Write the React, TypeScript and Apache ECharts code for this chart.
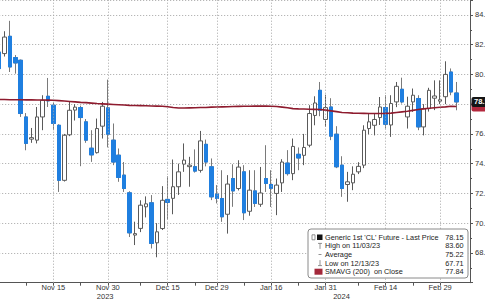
import React, { useEffect, useRef } from "react";
import * as echarts from "echarts";

// ---- data ----
const dates = [
  "2023-11-01","2023-11-02","2023-11-03","2023-11-06","2023-11-07","2023-11-08","2023-11-09","2023-11-10","2023-11-13","2023-11-14",
  "2023-11-15","2023-11-16","2023-11-17","2023-11-20","2023-11-21","2023-11-22","2023-11-24","2023-11-27","2023-11-28","2023-11-29",
  "2023-11-30","2023-12-01","2023-12-04","2023-12-05","2023-12-06","2023-12-07","2023-12-08","2023-12-11","2023-12-12","2023-12-13",
  "2023-12-14","2023-12-15","2023-12-18","2023-12-19","2023-12-20","2023-12-21","2023-12-22","2023-12-26","2023-12-27","2023-12-28",
  "2023-12-29","2024-01-02","2024-01-03","2024-01-04","2024-01-05","2024-01-08","2024-01-09","2024-01-10","2024-01-11","2024-01-12",
  "2024-01-16","2024-01-17","2024-01-18","2024-01-19","2024-01-22","2024-01-23","2024-01-24","2024-01-25","2024-01-26","2024-01-29",
  "2024-01-30","2024-01-31","2024-02-01","2024-02-02","2024-02-05","2024-02-06","2024-02-07","2024-02-08","2024-02-09","2024-02-12",
  "2024-02-13","2024-02-14","2024-02-15","2024-02-16","2024-02-20","2024-02-21","2024-02-22","2024-02-23","2024-02-26","2024-02-27",
  "2024-02-28","2024-02-29","2024-03-01","2024-03-04","2024-03-05",
];
const opens = [
  81.50,81.40,82.56,81.13,80.95,77.14,75.65,75.58,77.14,78.53,
  77.93,76.58,72.88,75.94,77.60,77.77,76.81,75.04,74.74,76.52,
  77.75,75.58,74.57,73.23,72.04,69.20,69.65,71.10,71.37,68.68,
  69.64,71.60,71.67,72.45,73.97,73.80,73.80,73.55,75.30,73.79,
  71.95,71.66,70.60,73.00,72.33,73.45,70.80,72.17,71.27,73.00,
  72.60,72.00,72.71,74.04,73.33,74.63,74.56,75.24,77.24,78.93,
  76.97,77.81,75.98,73.90,72.60,72.71,73.45,73.90,76.36,76.58,
  77.10,77.77,76.60,78.15,79.00,77.14,78.15,78.38,76.47,77.70,
  78.40,78.20,78.50,80.16,78.75,
];
const closes = [
  80.39,82.51,80.50,80.77,77.37,75.36,75.75,77.14,78.26,78.22,
  76.70,72.88,75.91,77.59,77.80,77.10,75.58,74.59,76.36,77.86,
  75.98,74.11,73.07,72.33,69.35,69.30,71.21,71.30,68.64,69.42,
  71.54,71.40,72.45,73.45,74.24,73.90,73.50,75.53,74.11,71.77,
  71.66,70.43,72.63,72.17,73.77,70.70,72.22,71.33,72.03,72.67,
  72.34,72.56,74.11,73.33,75.16,74.38,75.09,77.37,78.08,77.59,
  77.77,75.85,73.79,72.33,72.78,73.29,73.82,76.25,76.81,76.97,
  77.81,76.65,78.04,79.20,78.15,77.86,78.60,76.47,77.70,78.93,
  78.55,78.30,80.00,78.82,78.15,
];
const lows = [
  80.20,81.20,80.16,80.05,77.14,74.90,75.40,75.36,76.25,77.81,
  76.25,72.10,72.80,75.85,76.90,73.83,75.40,74.12,74.68,75.69,
  75.09,73.90,72.78,72.10,69.07,68.53,69.40,70.39,68.30,67.71,
  69.54,70.24,70.60,71.90,73.45,72.45,73.40,73.40,73.82,71.55,
  71.33,70.09,69.30,71.10,72.20,70.21,70.50,71.09,71.10,72.10,
  71.09,70.54,72.10,73.20,72.89,73.56,73.90,75.10,76.58,77.19,
  76.47,75.58,73.70,71.77,71.44,72.22,73.30,73.70,75.98,75.90,
  76.60,76.36,75.80,77.80,78.04,76.36,77.48,76.25,75.90,77.50,
  77.60,78.00,78.00,78.60,77.59,
];
const highs = [
  81.80,82.90,83.60,81.30,81.00,77.40,76.40,77.81,78.60,79.76,
  78.10,76.65,76.00,78.15,78.00,77.90,77.00,76.25,77.03,78.15,
  79.65,76.70,75.02,74.11,72.15,70.10,71.54,71.80,71.89,70.00,
  72.49,73.15,74.28,74.00,75.36,74.46,74.96,76.20,75.62,74.35,
  72.56,73.56,73.23,73.96,74.23,73.90,73.56,73.56,73.78,75.24,
  73.56,73.00,74.30,74.91,75.69,75.09,76.00,77.93,78.53,79.49,
  78.63,78.40,76.52,74.50,73.45,73.82,74.10,76.58,77.37,77.37,
  78.48,78.60,78.60,79.49,79.78,78.50,79.05,78.60,78.00,79.10,
  79.60,79.60,80.88,80.40,79.49,
];
const smavg = [
  78.31,78.31,78.30,78.30,78.30,78.29,78.29,78.28,78.28,78.27,
  78.26,78.24,78.21,78.18,78.15,78.12,78.10,78.07,78.04,78.02,
  78.00,77.98,77.96,77.94,77.92,77.91,77.90,77.89,77.88,77.87,
  77.86,77.83,77.78,77.74,77.74,77.75,77.76,77.77,77.78,77.80,
  77.81,77.82,77.83,77.84,77.85,77.86,77.86,77.87,77.87,77.87,
  77.86,77.84,77.80,77.76,77.70,77.68,77.67,77.66,77.65,77.64,
  77.60,77.55,77.50,77.44,77.42,77.40,77.39,77.38,77.37,77.37,
  77.37,77.38,77.40,77.44,77.48,77.52,77.58,77.64,77.68,77.72,
  77.76,77.79,77.82,77.86,77.84,
];
const tickIdx = [10, 20, 31, 40, 50, 60, 71, 81];
const tickLabels = ["Nov 15", "Nov 30", "Dec 15", "Dec 29", "Jan 16", "Jan 31", "Feb 14", "Feb 29"];
const minorTickIdx = [5, 15, 26, 36, 45, 55, 66, 76];
const yearLabels = ["2023", "2024"];
const legendLabels = [
  "Generic 1st 'CL' Future - Last Price",
  "High on 11/03/23",
  "Average",
  "Low on 12/13/23",
  "SMAVG (200)  on Close",
];
const legendValues = ["78.15", "83.60", "75.22", "67.71", "77.84"];

const BLUE = "#1f7fe0";
const MAROON = "#8e1b2e";
const GRID = "#a6a6a6";
const AXIS = "#555";
const FONT = "'Liberation Sans', Arial, sans-serif";

export default function App() {
  const ref = useRef<HTMLDivElement>(null);
  useEffect(() => {
    const chart = echarts.init(ref.current!, null, { renderer: "svg" });
    const cats = [...dates, "", ""];
    const ohlc = dates.map((_, i) => [opens[i], closes[i], lows[i], highs[i]]);
    const downBodies = dates.map((_, i) =>
      closes[i] < opens[i] ? [opens[i], closes[i], closes[i], opens[i]] : "-"
    );
    const tickSet = new Set(tickIdx);
    const minorSet = new Set(minorTickIdx);
    const last = dates.length - 1;
    const hiddenLabel = Math.round(closes[last]);
    chart.setOption({
      animation: false,
      backgroundColor: "#fff",
      textStyle: { fontFamily: FONT },
      grid: {
        left: -3.8,
        right: 15,
        top: 0,
        bottom: 17.3,
        containLabel: false,
        outerBoundsMode: "none",
      },
      xAxis: {
        type: "category",
        data: cats,
        boundaryGap: true,
        axisLine: { show: true, lineStyle: { color: AXIS, width: 1 } },
        axisTick: {
          show: true,
          alignWithLabel: true,
          interval: (i: number) => tickSet.has(i) || minorSet.has(i),
          length: 3,
          lineStyle: { color: AXIS },
        },
        axisLabel: {
          interval: (i: number) => tickSet.has(i),
          formatter: (_v: string, i: number) => tickLabels[tickIdx.indexOf(i)] ?? "",
          fontSize: 7.5,
          color: "#333",
          margin: 1,
          fontFamily: FONT,
        },
        splitLine: { show: false },
      },
      yAxis: {
        type: "value",
        position: "right",
        min: 66,
        max: 85,
        interval: 2,
        scale: true,
        axisLine: { show: true, lineStyle: { color: AXIS, width: 1 } },
        axisTick: { show: true, length: 3, lineStyle: { color: AXIS } },
        minorTick: { show: true, splitNumber: 2, length: 2, lineStyle: { color: AXIS } },
        axisLabel: {
          // the label under the last-price tag is hidden by the tag
          formatter: (v: number) => (Math.abs(v - hiddenLabel) < 0.01 ? "" : v.toFixed(2)),
          fontSize: 7.5,
          color: "#333",
          margin: 5,
          showMinLabel: false,
          showMaxLabel: false,
          fontFamily: FONT,
        },
        splitLine: { show: true, lineStyle: { color: GRID, type: [1, 2], width: 1 } },
      },
      series: [
        {
          type: "candlestick",
          data: ohlc,
          barWidth: 4,
          z: 2,
          itemStyle: {
            color: "#ffffff",
            color0: BLUE,
            borderColor: "#5a5a5a",
            borderColor0: "#7a7a7a",
            borderWidth: 1,
          },
        },
        {
          type: "candlestick",
          data: downBodies,
          barWidth: 4,
          z: 3,
          silent: true,
          itemStyle: {
            color: BLUE,
            color0: BLUE,
            borderColor: BLUE,
            borderColor0: BLUE,
            borderWidth: 1,
          },
        },
        {
          type: "line",
          data: smavg,
          symbol: "none",
          z: 4,
          lineStyle: { color: MAROON, width: 1.6 },
          markLine: {
            silent: true,
            symbol: ["none", "none"],
            label: { show: false },
            lineStyle: { color: GRID, type: [1, 2], width: 1 },
            data: tickIdx.map((i) => ({ xAxis: dates[i] })),
          },
        },
      ],
    });

    const yLast = chart.convertToPixel({ yAxisIndex: 0 }, closes[last]) as number;
    const ySma = chart.convertToPixel({ yAxisIndex: 0 }, smavg[last]) as number;
    const xAx = chart.convertToPixel({ xAxisIndex: 0 }, dates[20]) as number;
    const xAx2 = chart.convertToPixel({ xAxisIndex: 0 }, dates[61]) as number;

    const lx = 308, ly = 229, lw = 160, lh = 49;
    const rowY = (r: number) => ly + 8.3 + r * 8.6;
    const legendTexts: any[] = [];
    legendLabels.forEach((t, r) => {
      legendTexts.push({
        type: "text",
        x: 325,
        y: rowY(r),
        z: 21,
        style: { text: t, fill: "#222", font: `7.3px ${FONT}`, textVerticalAlign: "middle" },
      });
      legendTexts.push({
        type: "text",
        x: 463.5,
        y: rowY(r),
        z: 21,
        style: { text: legendValues[r], fill: "#222", font: `7.3px ${FONT}`, textAlign: "right", textVerticalAlign: "middle" },
      });
    });

    chart.setOption({
      graphic: [
        // year labels
        { type: "text", x: xAx - 11, y: 292, style: { text: yearLabels[0], fill: "#333", font: `7.5px ${FONT}` } },
        { type: "text", x: xAx2 + 2, y: 292, style: { text: yearLabels[1], fill: "#333", font: `7.5px ${FONT}` } },
        // last value tags (SMAVG tag mostly hidden behind the last-price tag)
        { type: "rect", z: 30, shape: { x: 471.5, y: ySma - 5, width: 22, height: 10, r: 2 }, style: { fill: "#b3283d" } },
        { type: "rect", z: 32, shape: { x: 471.5, y: yLast - 5, width: 22, height: 10, r: 2 }, style: { fill: "#151515" } },
        { type: "text", z: 33, x: 474, y: yLast, style: { text: closes[last].toFixed(2), fill: "#fff", font: `bold 7.5px ${FONT}`, textVerticalAlign: "middle" } },
        // legend box
        { type: "rect", z: 20, shape: { x: lx, y: ly, width: lw, height: lh, r: 3 }, style: { fill: "#fff", stroke: "#8a8a8a", lineWidth: 1 } },
        // icons
        { type: "rect", z: 21, shape: { x: 312, y: rowY(0) - 2.5, width: 3, height: 5 }, style: { fill: "#fff", stroke: "#777", lineWidth: 0.8 } },
        { type: "rect", z: 21, shape: { x: 317, y: rowY(0) - 2.8, width: 5.5, height: 5.5 }, style: { fill: "#111" } },
        { type: "line", z: 21, shape: { x1: 318, y1: rowY(1) - 2.5, x2: 322, y2: rowY(1) - 2.5 }, style: { stroke: "#777", lineWidth: 0.8 } },
        { type: "line", z: 21, shape: { x1: 320, y1: rowY(1) - 2.5, x2: 320, y2: rowY(1) + 3 }, style: { stroke: "#777", lineWidth: 0.8 } },
        { type: "line", z: 21, shape: { x1: 318.5, y1: rowY(2), x2: 321.5, y2: rowY(2) }, style: { stroke: "#777", lineWidth: 0.8 } },
        { type: "line", z: 21, shape: { x1: 320, y1: rowY(3) - 3, x2: 320, y2: rowY(3) + 2.5 }, style: { stroke: "#777", lineWidth: 0.8 } },
        { type: "line", z: 21, shape: { x1: 318, y1: rowY(3) + 2.5, x2: 322, y2: rowY(3) + 2.5 }, style: { stroke: "#777", lineWidth: 0.8 } },
        { type: "rect", z: 21, shape: { x: 314.5, y: rowY(4) - 3, width: 8, height: 6 }, style: { fill: "#a3283a" } },
        ...legendTexts,
      ],
    });

    return () => chart.dispose();
  }, []);

  return (
    <div
      ref={ref}
      style={{ position: "fixed", left: 0, top: 0, width: 485, height: 300, background: "#fff" }}
    />
  );
}
